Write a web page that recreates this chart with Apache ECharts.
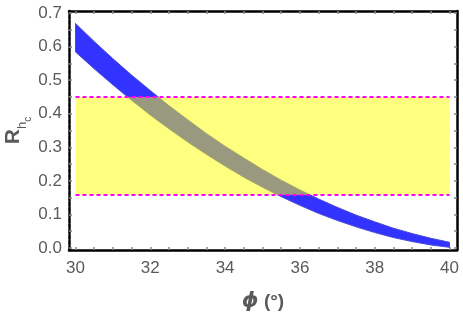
<!DOCTYPE html>
<html><head><meta charset="utf-8">
<script src="https://cdn.jsdelivr.net/npm/echarts@6/dist/echarts.min.js"></script>
<style>html,body{margin:0;padding:0;background:#fff}#c{width:463px;height:314px}</style>
</head><body><div id="c"></div>
<script>
const phi   = [30, 30.5, 31, 31.5, 32, 32.5, 33, 33.5, 34, 34.5, 35, 35.5, 36, 36.5, 37, 37.5, 38, 38.5, 39, 39.5, 40];
const upper = [0.669, 0.615, 0.564, 0.515, 0.469, 0.424, 0.382, 0.341, 0.303, 0.268, 0.234, 0.202, 0.173, 0.146, 0.121, 0.098, 0.078, 0.059, 0.043, 0.029, 0.017];
const lower = [0.584, 0.534, 0.486, 0.440, 0.396, 0.355, 0.316, 0.279, 0.244, 0.211, 0.181, 0.153, 0.127, 0.103, 0.082, 0.063, 0.046, 0.031, 0.019, 0.009, 0.002];
const bandTop = 0.45;
const bandBottom = 0.158;
const bandStart = 30, bandEnd = 40;
const xLabels = [30, 32, 34, 36, 38, 40];
const xTickVals = [30,30.5,31,31.5,32,32.5,33,33.5,34,34.5,35,35.5,36,36.5,37,37.5,38,38.5,39,39.5,40];
const yLabels = [0, 0.1, 0.2, 0.3, 0.4, 0.5, 0.6, 0.7];
const yTickVals = [0,0.05,0.1,0.15,0.2,0.25,0.3,0.35,0.4,0.45,0.5,0.55,0.6,0.65,0.7];

const chart = echarts.init(document.getElementById('c'), null, {renderer: 'canvas'});
const font = 'Liberation Sans, Arial, sans-serif';
const labelColor = '#5a5a5a';
const edge = '#4a4ad6';

const bandRows = phi.map((x, i) => [x, upper[i], lower[i]]);
const regionRows = [[bandStart, bandTop, bandEnd, bandBottom]];

function xAxisDef(pos, showLabel) {
  return {
    type: 'value', position: pos, min: 29.826, max: 40.2,
    axisLine: {show: true, onZero: false, lineStyle: {color: '#000', width: 2.5}},
    axisTick: {show: true, inside: true, length: 3, customValues: xTickVals, lineStyle: {color: '#888', width: 1.5}},
    axisLabel: {show: showLabel, customValues: xLabels, color: labelColor, fontSize: 17, fontFamily: font, margin: 10},
    splitLine: {show: false},
    name: showLabel ? '{p|ϕ} (°)' : '', nameLocation: 'middle', nameGap: 41, nameMoveOverlap: false,
    nameTextStyle: {color: labelColor, fontSize: 19, fontWeight: 'bold', fontFamily: font,
      rich: {p: {fontStyle: 'italic', fontWeight: 'bold', fontSize: 21, color: labelColor, fontFamily: 'DejaVu Sans'}}}
  };
}
function yAxisDef(pos, showLabel) {
  return {
    type: 'value', position: pos, min: -0.006, max: 0.706,
    axisLine: {show: true, onZero: false, lineStyle: {color: '#000', width: 2.5, type: showLabel ? [4, 1.5] : 'solid'}},
    axisTick: {show: true, inside: true, length: 3, customValues: yTickVals, lineStyle: {color: '#888', width: 1.5}},
    axisLabel: {show: showLabel, customValues: yLabels, color: labelColor, fontSize: 17, fontFamily: font, margin: 7,
      formatter: v => v.toFixed(1)},
    splitLine: {show: false},
    name: showLabel ? '{r|R}{h|h}{c|c}' : '', nameLocation: 'middle', nameGap: 44, nameRotate: 90, nameMoveOverlap: false,
    nameTextStyle: {color: labelColor, fontFamily: font,
      rich: {
        r: {fontSize: 21, fontWeight: 'bold', color: labelColor, lineHeight: 22, verticalAlign: 'top', fontFamily: font},
        h: {fontSize: 13, color: labelColor, lineHeight: 14, padding: [13, 0, 0, 0], verticalAlign: 'top', fontFamily: font},
        c: {fontSize: 10, color: labelColor, lineHeight: 10, padding: [20, 0, 0, 0], verticalAlign: 'top', fontFamily: font}
      }}
  };
}

chart.setOption({
  animation: false,
  backgroundColor: '#fff',
  grid: {left: 69, right: 6, top: 11, bottom: 64, containLabel: false, outerBoundsMode: 'none'},
  xAxis: [xAxisDef('bottom', true), xAxisDef('top', false)],
  yAxis: [yAxisDef('left', true), yAxisDef('right', false)],
  series: [
    {
      name: 'band', type: 'custom', data: bandRows, z: 2, silent: true,
      renderItem: function (params, api) {
        if (params.dataIndex !== 0) return null;
        const pts = [];
        for (let i = 0; i < bandRows.length; i++) pts.push(api.coord([bandRows[i][0], bandRows[i][1]]));
        for (let i = bandRows.length - 1; i >= 0; i--) pts.push(api.coord([bandRows[i][0], bandRows[i][2]]));
        return {type: 'polygon', shape: {points: pts}, style: {fill: '#3333ff', stroke: edge, lineWidth: 1}};
      }
    },
    {
      name: 'region', type: 'custom', data: regionRows, z: 5, silent: true,
      renderItem: function (params, api) {
        const p1 = api.coord([api.value(0), api.value(1)]);
        const p2 = api.coord([api.value(2), api.value(3)]);
        return {type: 'rect', shape: {x: p1[0], y: p1[1], width: p2[0] - p1[0], height: p2[1] - p1[1]},
          style: {fill: 'rgba(255,255,0,0.5)'}};
      }
    },
    {
      name: 'limits', type: 'line', data: [], z: 6, silent: true,
      markLine: {silent: true, symbol: 'none', label: {show: false}, z: 6,
        lineStyle: {color: '#ff00ff', type: [4, 3], width: 2},
        data: [
          [{coord: [bandStart, bandTop]}, {coord: [bandEnd, bandTop]}],
          [{coord: [bandStart, bandBottom]}, {coord: [bandEnd, bandBottom]}]
        ]}
    }
  ]
});
</script>
</body></html>
